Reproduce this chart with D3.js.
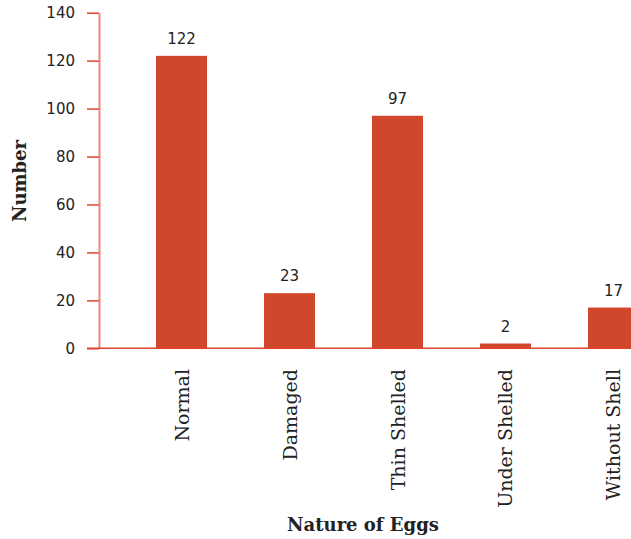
<!DOCTYPE html>
<html>
<head>
<meta charset="utf-8">
<script src="https://cdn.jsdelivr.net/npm/d3@7"></script>
<style>
  html, body { margin: 0; padding: 0; background: #fff; }
  svg { display: block; }
</style>
</head>
<body>
<svg id="chart" width="631" height="539"></svg>
<script>
// Egg counts by nature of egg
const categories = ["Normal", "Damaged", "Thin Shelled", "Under Shelled", "Without Shell"];
const counts = [122, 23, 97, 2, 17];
const yTicks = [0, 20, 40, 60, 80, 100, 120, 140];

const barColor = "#d0472c";
const axisRed = "#e0452e";
const axisPink = "#e8877a";

const svg = d3.select("#chart");
const x0 = 99, yTop = 12.7, yBase = 348.3;

const x = d3.scaleBand()
  .domain(categories)
  .range([x0, 696])
  .paddingInner(0.528)
  .paddingOuter(0.528);

const y = d3.scaleLinear().domain([0, 140]).range([yBase, yTop]);

// Y axis
const yAxis = svg.append("g")
  .attr("transform", `translate(${x0},0)`)
  .call(d3.axisLeft(y).tickValues(yTicks).tickSize(12).tickPadding(12).tickSizeOuter(0));
yAxis.select(".domain").attr("stroke", axisPink).attr("stroke-width", 2);
yAxis.selectAll(".tick line").attr("stroke", axisRed).attr("stroke-width", 1.5);
yAxis.selectAll(".tick text")
  .attr("fill", "#222")
  .style("font-family", "'DejaVu Sans', sans-serif")
  .style("font-size", "15px");

// Bars
svg.append("g").selectAll("rect")
  .data(categories)
  .join("rect")
  .attr("x", d => x(d))
  .attr("width", x.bandwidth())
  .attr("y", (d, i) => y(counts[i]))
  .attr("height", (d, i) => yBase - y(counts[i]))
  .attr("fill", barColor);

// Baseline
svg.append("line")
  .attr("x1", 87).attr("x2", 631)
  .attr("y1", yBase).attr("y2", yBase)
  .attr("stroke", axisRed).attr("stroke-width", 1.5);

// Value labels
svg.append("g").selectAll("text")
  .data(categories)
  .join("text")
  .attr("x", d => x(d) + x.bandwidth() / 2)
  .attr("y", (d, i) => y(counts[i]) - 12)
  .attr("text-anchor", "middle")
  .attr("fill", "#222")
  .style("font-family", "'DejaVu Sans', sans-serif")
  .style("font-size", "15px")
  .text((d, i) => counts[i]);

// Category labels (rotated)
svg.append("g").selectAll("text")
  .data(categories)
  .join("text")
  .attr("transform", d => `translate(${x(d) + x.bandwidth() / 2 + 7},369) rotate(-90)`)
  .attr("text-anchor", "end")
  .attr("fill", "#222")
  .style("font-family", "'DejaVu Serif', serif")
  .style("font-size", "19px")
  .text(d => d);

// Axis titles
svg.append("text")
  .attr("transform", "translate(26,181) rotate(-90)")
  .attr("text-anchor", "middle")
  .attr("fill", "#222")
  .style("font-family", "'DejaVu Serif', serif")
  .style("font-weight", "bold")
  .style("font-size", "18px")
  .text("Number");

svg.append("text")
  .attr("x", 363).attr("y", 531)
  .attr("text-anchor", "middle")
  .attr("fill", "#222")
  .style("font-family", "'DejaVu Serif', serif")
  .style("font-weight", "bold")
  .style("font-size", "18px")
  .text("Nature of Eggs");
</script>
</body>
</html>
